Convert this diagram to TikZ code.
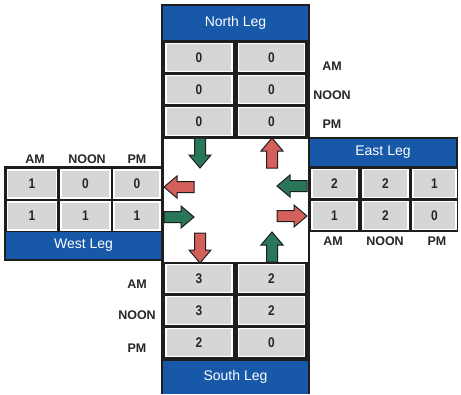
\documentclass[tikz,border=0pt]{standalone}
\usepackage{fontspec}
\setmainfont{Liberation Sans}
\newfontfamily\numfont[FakeStretch=0.85]{Liberation Sans}
\definecolor{hdrblue}{RGB}{24,88,168}
\definecolor{cellgray}{RGB}{214,214,214}
\definecolor{arrgreen}{RGB}{42,118,88}
\definecolor{arrred}{RGB}{212,96,92}
\definecolor{frameblk}{RGB}{30,30,30}
\tikzset{
  cellbox/.style={draw=white, line width=1.8pt, fill=cellgray, inner sep=0pt,
    font=\numfont\bfseries\fontsize{14}{14}\selectfont, text=black!85},
  hdr/.style={fill=hdrblue, inner sep=0pt, text=white, font=\fontsize{14}{14}\selectfont},
  lbl/.style={font=\bfseries\fontsize{12.5}{12.5}\selectfont, inner sep=0pt, text=black!85},
  arrline/.style={draw=frameblk, line width=1pt, line join=miter},
  arrR/.pic={\path[pic actions] (0,-5.5)--(17,-5.5)--(17,-11)--(30,0)--(17,11)--(17,5.5)--(0,5.5)--cycle;},
  arrL/.pic={\path[pic actions] (0,-5.5)--(-17,-5.5)--(-17,-11)--(-30,0)--(-17,11)--(-17,5.5)--(0,5.5)--cycle;},
  arrD/.pic={\path[pic actions] (-5.5,0)--(-5.5,17)--(-11,17)--(0,30)--(11,17)--(5.5,17)--(5.5,0)--cycle;},
  arrU/.pic={\path[pic actions] (-5.5,0)--(-5.5,-17)--(-11,-17)--(0,-30)--(11,-17)--(5.5,-17)--(5.5,0)--cycle;},
}
\begin{document}
\begin{tikzpicture}[x=1pt,y=-1pt]
\useasboundingbox[fill=white] (0,0) rectangle (461,394);
% frames
\fill[frameblk] (161,4) rectangle (310,394);
\fill[frameblk] (4,166) rectangle (163,261);
\fill[frameblk] (308,137) rectangle (458,232);
\fill[white] (163.5,138.5) rectangle (307.5,261.5);
% headers
\node[hdr, minimum width=145pt, minimum height=34pt] (hN) at (235.5,23) {North Leg};
\node[hdr, minimum width=146pt, minimum height=27pt] (hE) at (383,152.5) {East Leg};
\node[hdr, minimum width=155pt, minimum height=27pt] (hW) at (83.5,245.5) {West Leg};
\node[hdr, minimum width=145pt, minimum height=33pt] (hS) at (235.5,377) {South Leg};
% north cells
\node[cellbox, minimum width=66pt, minimum height=28pt] (n11) at (199,57.5) {0};
\node[cellbox, minimum width=66pt, minimum height=28pt] (n12) at (271.5,57.5) {0};
\node[cellbox, minimum width=66pt, minimum height=28pt] (n21) at (199,89.5) {0};
\node[cellbox, minimum width=66pt, minimum height=28pt] (n22) at (271.5,89.5) {0};
\node[cellbox, minimum width=66pt, minimum height=28pt] (n31) at (199,121.5) {0};
\node[cellbox, minimum width=66pt, minimum height=28pt] (n32) at (271.5,121.5) {0};
% south cells
\node[cellbox, minimum width=66pt, minimum height=28pt] (s11) at (199,278.5) {3};
\node[cellbox, minimum width=66pt, minimum height=28pt] (s12) at (271.5,278.5) {2};
\node[cellbox, minimum width=66pt, minimum height=28pt] (s21) at (199,310.5) {3};
\node[cellbox, minimum width=66pt, minimum height=28pt] (s22) at (271.5,310.5) {2};
\node[cellbox, minimum width=66pt, minimum height=28pt] (s31) at (199,342.5) {2};
\node[cellbox, minimum width=66pt, minimum height=28pt] (s32) at (271.5,342.5) {0};
% west cells
\node[cellbox, minimum width=49pt, minimum height=28pt] (w11) at (32,184) {1};
\node[cellbox, minimum width=49pt, minimum height=28pt] (w12) at (85.5,184) {0};
\node[cellbox, minimum width=46pt, minimum height=28pt] (w13) at (137,184) {0};
\node[cellbox, minimum width=49pt, minimum height=28pt] (w21) at (32,216) {1};
\node[cellbox, minimum width=49pt, minimum height=28pt] (w22) at (85.5,216) {1};
\node[cellbox, minimum width=46pt, minimum height=28pt] (w23) at (137,216) {1};
% east cells
\node[cellbox, minimum width=45pt, minimum height=28pt] (e11) at (334.5,183.5) {2};
\node[cellbox, minimum width=45pt, minimum height=28pt] (e12) at (385.5,183.5) {2};
\node[cellbox, minimum width=43pt, minimum height=28pt] (e13) at (434.5,183.5) {1};
\node[cellbox, minimum width=45pt, minimum height=28pt] (e21) at (334.5,215.5) {1};
\node[cellbox, minimum width=45pt, minimum height=28pt] (e22) at (385.5,215.5) {2};
\node[cellbox, minimum width=43pt, minimum height=28pt] (e23) at (434.5,215.5) {0};
% labels
\node[lbl] (lnA) at (332,66) {AM};
\node[lbl] (lnN) at (332,95) {NOON};
\node[lbl] (lnP) at (332,124) {PM};
\node[lbl] (leA) at (333,241) {AM};
\node[lbl] (leN) at (385,241) {NOON};
\node[lbl] (leP) at (437,241) {PM};
\node[lbl] (lwA) at (35,159) {AM};
\node[lbl] (lwN) at (87,159) {NOON};
\node[lbl] (lwP) at (137,159) {PM};
\node[lbl] (lsA) at (137,284) {AM};
\node[lbl] (lsN) at (137,315) {NOON};
\node[lbl] (lsP) at (137,348) {PM};
% arrows
\pic[arrline, fill=arrgreen] (aNg) at (200,138) {arrD};
\pic[arrline, fill=arrred] (aNr) at (272,168) {arrU};
\pic[arrline, fill=arrred] (aWr) at (194,187) {arrL};
\pic[arrline, fill=arrgreen] (aWg) at (164,217) {arrR};
\pic[arrline, fill=arrgreen] (aEg) at (307,186) {arrL};
\pic[arrline, fill=arrred] (aEr) at (277,216) {arrR};
\pic[arrline, fill=arrred] (aSr) at (200,233) {arrD};
\pic[arrline, fill=arrgreen] (aSg) at (272,262) {arrU};
\end{tikzpicture}
\end{document}
